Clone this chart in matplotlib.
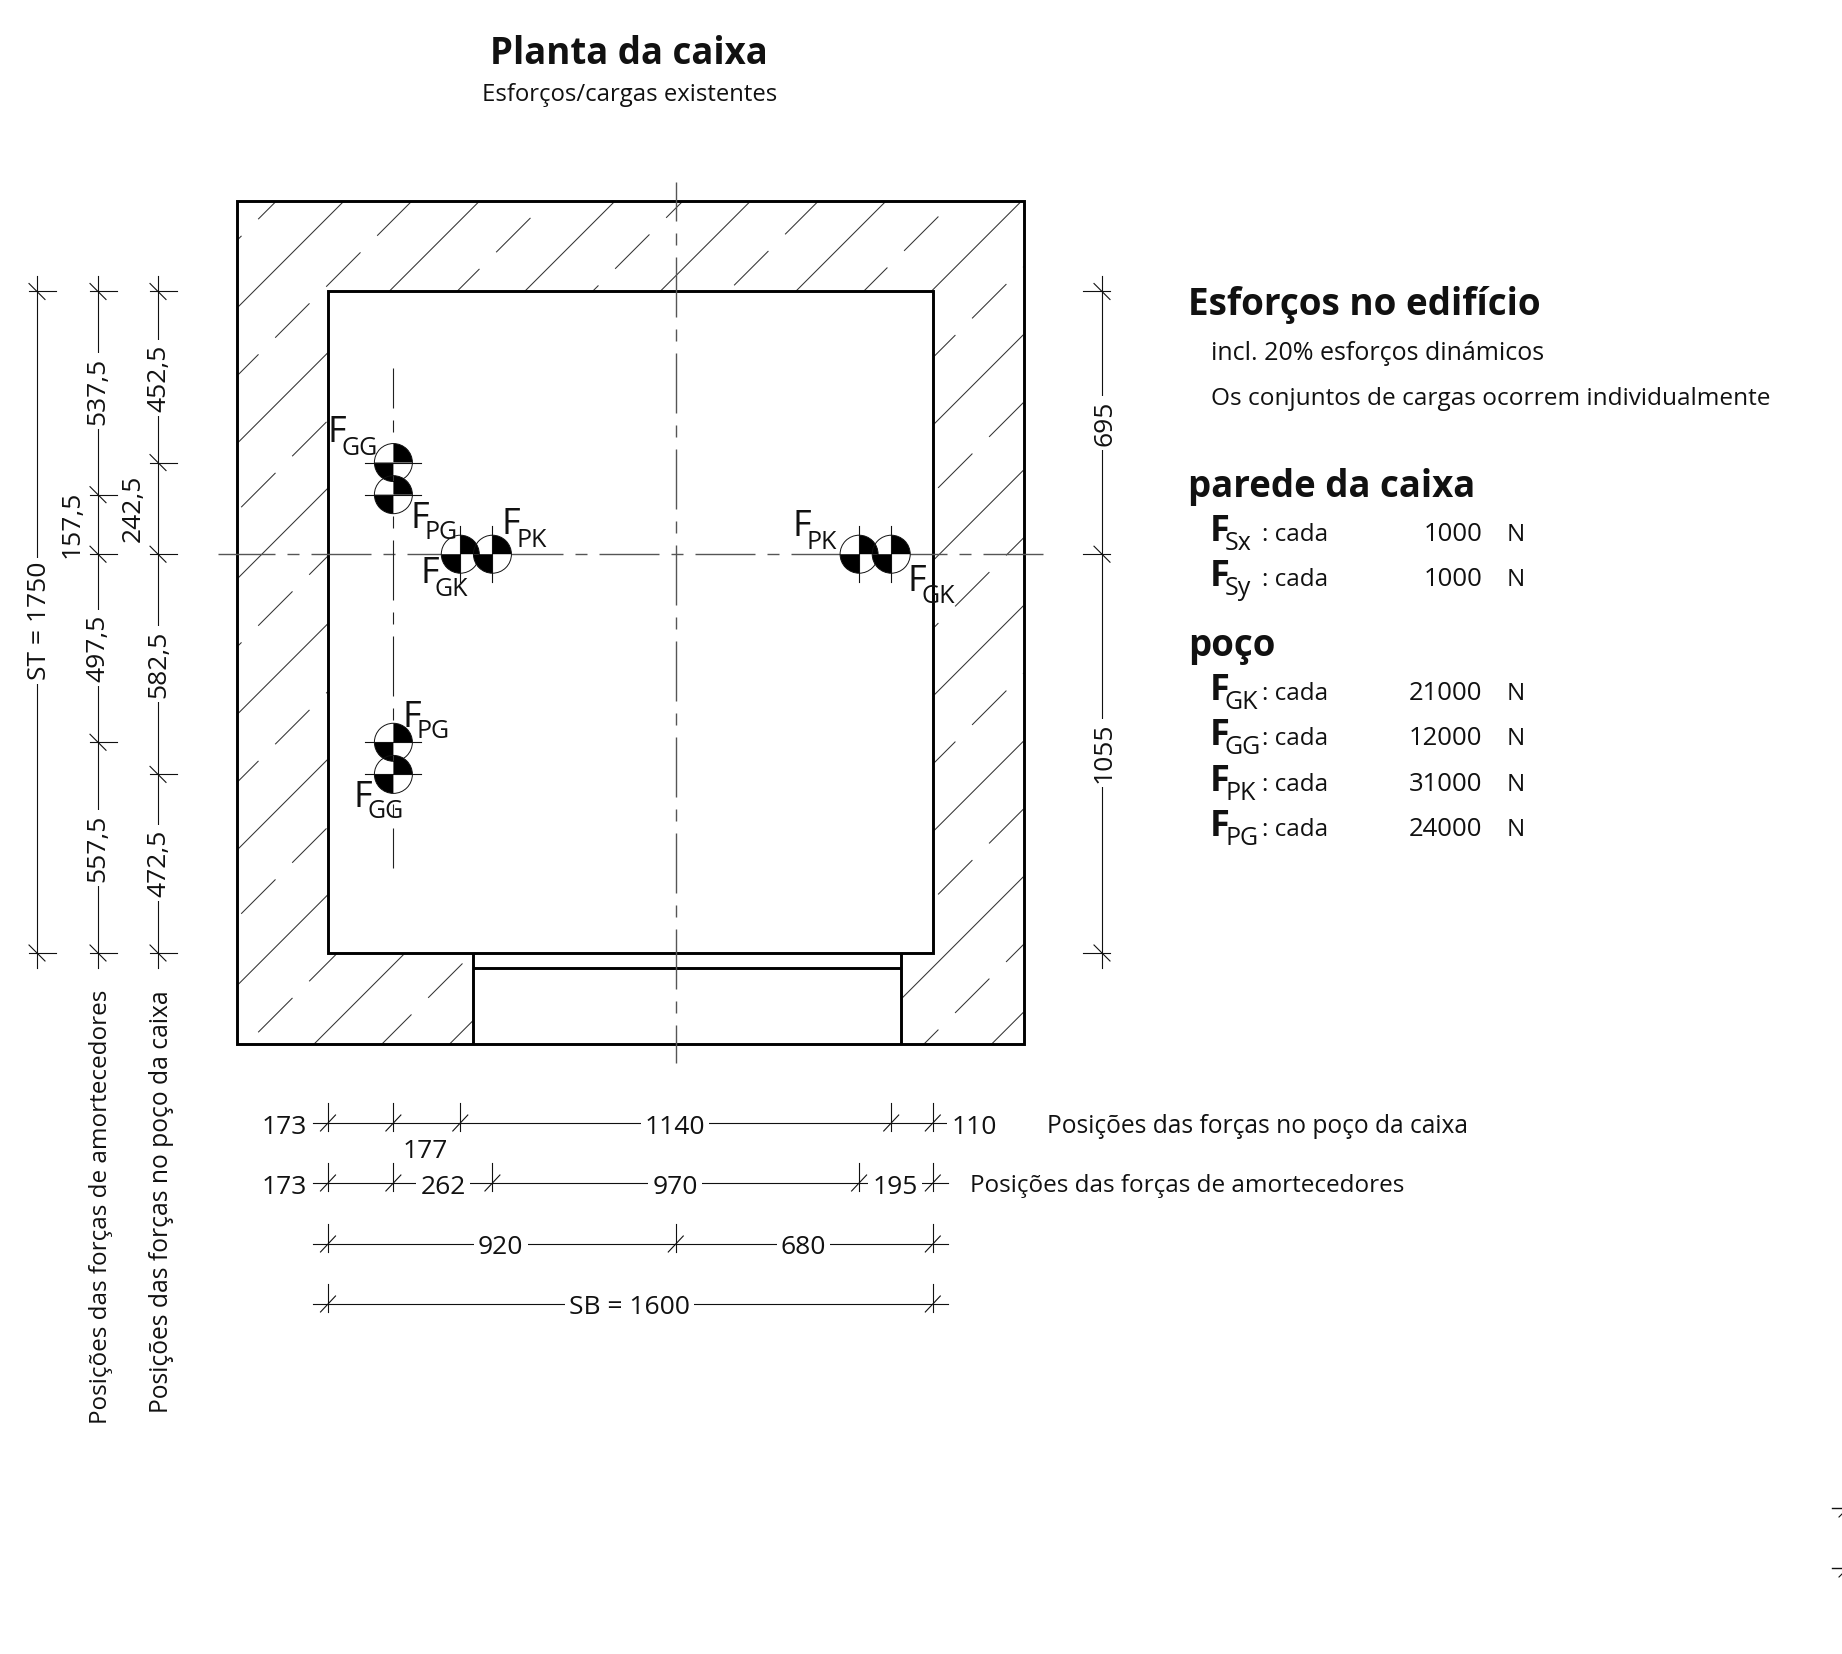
import numpy as np
import matplotlib
matplotlib.use("Agg")
import matplotlib.pyplot as plt
from matplotlib.patches import Rectangle, Circle, Wedge
from matplotlib.collections import LineCollection

plt.rcParams["font.family"] = ["Open Sans", "DejaVu Sans"]
plt.rcParams["lines.scale_dashes"] = False

# dimensions in mm
SB = 1600
ST = 1750
WALL = 240
DOOR = [384, 1516]
DOOR_SILL = 40

row_poco = [173, 177, 1140, 110]
row_amort = [173, 262, 970, 195]
row_center = [920, 680]
row_total = [1600]

col_total = [1750]
col_amort = [537.5, 157.5, 497.5, 557.5]
col_poco = [452.5, 242.5, 582.5, 472.5]
col_center = [695, 1055]

legend_wall = [("Sx", 1000), ("Sy", 1000)]
legend_pit = [("GK", 21000), ("GG", 12000), ("PK", 31000), ("PG", 24000)]

S = 0.378       # px per mm
X0, Y0 = 328, 953   # pixel of shaft corner
W, H = 1842, 1654
INK = "#111111"


def mx(px):
    return (px - X0) / S


def my(py):
    return (Y0 - py) / S


fig = plt.figure(figsize=(W / 100, H / 100), dpi=100)
ax = fig.add_axes([0, 0, 1, 1])
ax.set_xlim(mx(0), mx(W))
ax.set_ylim(my(H), my(0))
ax.axis("off")


def text(px, py, s, size=17.5, **kw):
    kw.setdefault("color", INK)
    kw.setdefault("va", "baseline")
    return ax.text(mx(px), my(py), s, fontsize=size, **kw)


# hatching of the wall
segs = []
for k in range(0, 13):
    c = 1947 - 358.5 * k
    segs.append([(-WALL, -WALL + c), (SB + WALL, SB + WALL + c)])
P, DASH = 134.9, 90.8
for k in range(0, 13):
    c = 2126 - 358.5 * k
    top = (41 + P / 3 * k) % P
    for n in range(-4, 18):
        xt = top + n * P
        segs.append([(xt - DASH, xt - DASH + c), (xt, xt + c)])
hatch = LineCollection(segs, colors="#333333", linewidths=0.75, zorder=1)
ax.add_collection(hatch)
hatch.set_clip_path(Rectangle((-WALL, -WALL), SB + 2 * WALL, ST + 2 * WALL, transform=ax.transData))

ax.add_patch(Rectangle((0, 0), SB, ST, fc="white", ec="none", zorder=2))
ax.add_patch(Rectangle((DOOR[0], -WALL), DOOR[1] - DOOR[0], WALL, fc="white", ec="none", zorder=2))

# walls
wall_lw = 2.1
ax.add_patch(Rectangle((-WALL, -WALL), SB + 2 * WALL, ST + 2 * WALL, fc="none", ec="black", lw=wall_lw, zorder=3))
ax.add_patch(Rectangle((0, 0), SB, ST, fc="none", ec="black", lw=wall_lw, zorder=3))
for xd in DOOR:
    ax.plot([xd, xd], [0, -WALL], color="black", lw=wall_lw, solid_capstyle="butt", zorder=3)
ax.plot(DOOR, [-DOOR_SILL, -DOOR_SILL], color="black", lw=wall_lw, solid_capstyle="butt", zorder=3)

# centre lines
yc = ST - col_center[0]
xc = row_center[0]
pat = (0.72 * 60, 0.72 * 12, 0.72 * 12, 0.72 * 12)
ax.plot([mx(218), mx(1043)], [yc, yc], color="#555555", lw=1.0, zorder=4, ls=(0.72 * 3, pat))
ax.plot([xc, xc], [my(182), my(1063)], color="#555555", lw=1.0, zorder=4, ls=(0.72 * 21, pat))
ax.plot([row_poco[0], row_poco[0]], [my(368), my(868)], color="#222222", lw=0.8, zorder=4, ls=(0.72 * 20, pat))


def tick(x, y, vertical_line, flip=1):
    # ext line + slash; vertical_line True -> dimension runs horizontally
    if vertical_line:
        ax.plot([x, x], [y - 8 / S, y + 20 / S], color=INK, lw=0.8, zorder=5)
        ax.plot([x - 7.5 / S, x + 7.5 / S], [y - 8 / S, y + 8 / S], color=INK, lw=0.8, zorder=5)
    else:
        ax.plot([x - flip * 8 / S, x + flip * 19 / S], [y, y], color=INK, lw=0.8, zorder=5)
        ax.plot([x - 8 / S, x + 8 / S], [y + 8 / S, y - 8 / S], color=INK, lw=0.8, zorder=5)


def hdim(py, parts):
    y = my(py)
    xs = np.concatenate([[0], np.cumsum(parts)])
    ax.plot([xs[0] - 15 / S, xs[-1] + 15 / S], [y, y], color=INK, lw=0.8, zorder=5)
    for x in xs:
        tick(x, y, True)


def vdim(px, parts, flip=1):
    x = mx(px)
    ys = ST - np.concatenate([[0], np.cumsum(parts)])
    ax.plot([x, x], [ys[0] + 15 / S, ys[-1] - 15 / S], color=INK, lw=0.8, zorder=5)
    for y in ys:
        tick(x, y, False, flip)


hdim(1123, row_poco)
hdim(1183, row_amort)
hdim(1244, row_center)
hdim(1304, row_total)
vdim(37, col_total)
vdim(98, col_amort)
vdim(158, col_poco)
vdim(1102, col_center, flip=-1)


white = dict(fc="white", ec="none", pad=3)
DIM = 19


def hlabel(px, py, s, box=True):
    text(px, py + 10.5, s, size=DIM, ha="center", zorder=6, bbox=white if box else None)


def vlabel(px, py, s, box=True):
    text(px, py, s, size=DIM, ha="center", rotation=90, rotation_mode="anchor", zorder=6, bbox=white if box else None)


for px, py, s in [(284.5, 1123, row_poco[0]), (675, 1123, row_poco[2]), (974, 1123, row_poco[3]),
                  (284.5, 1183, row_amort[0]), (443, 1183, row_amort[1]), (675, 1183, row_amort[2]),
                  (895, 1183, row_amort[3]), (500.6, 1244, row_center[0]), (803.5, 1244, row_center[1])]:
    hlabel(px, py, str(s))
hlabel(425, 1148, str(row_poco[1]), box=False)
hlabel(629.6, 1304, "SB = %d" % SB)


def dec(v):
    return ("%.1f" % v).replace(".", ",")


vlabel(46.5, 621, "ST = %d" % ST)
vlabel(104, 391, dec(col_amort[0]))
vlabel(79, 524, dec(col_amort[1]), box=False)
vlabel(104, 648, dec(col_amort[2]))
vlabel(104, 848, dec(col_amort[3]))
vlabel(165, 378, dec(col_poco[0]))
vlabel(140, 508, dec(col_poco[1]), box=False)
vlabel(165, 664, dec(col_poco[2]))
vlabel(165, 863, dec(col_poco[3]))
vlabel(1111, 423, str(col_center[0]))
vlabel(1111, 753, str(col_center[1]))

# force targets
R = 19 / S
TL = 28 / S
amort = np.cumsum(col_amort)
poco = np.cumsum(col_poco)
targets = [
    (row_poco[0], ST - poco[0], "h"),
    (row_poco[0], ST - amort[0], "h"),
    (row_poco[0], ST - amort[2], "h"),
    (row_poco[0], ST - poco[2], "h"),
    (row_poco[0] + row_poco[1], yc, "v"),
    (row_amort[0] + row_amort[1], yc, "v"),
    (sum(row_amort[:3]), yc, "v"),
    (sum(row_poco[:3]), yc, "v"),
]
for x, y, d in targets:
    ax.add_patch(Circle((x, y), R, fc="white", ec="none", zorder=6))
    ax.add_patch(Wedge((x, y), R, 0, 90, fc="black", ec="none", zorder=7))
    ax.add_patch(Wedge((x, y), R, 180, 270, fc="black", ec="none", zorder=7))
    ax.add_patch(Circle((x, y), R, fc="none", ec=INK, lw=0.7, zorder=7))
    if d == "h":
        ax.plot([x - TL, x + TL], [y, y], color=INK, lw=0.8, zorder=8)
    else:
        ax.plot([x, x], [y - TL, y + TL], color=INK, lw=0.8, zorder=8)

force_labels = [
    (330, 442, 341, 455, "GG"), (413, 528, 424, 539, "PG"), (504, 534, 516, 546.7, "PK"),
    (423, 583, 434, 596, "GK"), (795, 535.7, 806, 548.6, "PK"), (910, 591, 921, 602.6, "GK"),
    (405, 727, 416, 737.7, "PG"), (356, 807, 367, 817.6, "GG"),
]
for fx, fy, sx, sy, sub in force_labels:
    text(fx - 3, fy, "F", size=26, zorder=9)
    text(sx, sy, sub, size=18, zorder=9)

# titles
HEAD = 26.4
text(629, 64.5, "Planta da caixa", size=HEAD, weight="bold", ha="center")
text(629.6, 101.5, "Esforços/cargas existentes", size=17.2, ha="center")

text(1046.7, 1132.6, "Posições das forças no poço da caixa", size=17.65)
text(970, 1192.5, "Posições das forças de amortecedores")
text(107, 990, "Posições das forças de amortecedores", rotation=90, rotation_mode="anchor", ha="right")
text(168, 990, "Posições das forças no poço da caixa", size=17.75, rotation=90, rotation_mode="anchor", ha="right")

# legend on the right
text(1188, 315, "Esforços no edifício", size=HEAD + 0.2, weight="bold")
text(1211, 360, "incl. 20% esforços dinámicos", size=18)
text(1211, 405, "Os conjuntos de cargas ocorrem individualmente", size=17.55)
text(1188, 496.5, "parede da caixa", size=HEAD, weight="bold")
text(1188, 656, "poço", size=HEAD, weight="bold")

legend_y = [541, 585.7, 700, 745, 791, 836]
for (sub, val), y in zip(legend_wall + legend_pit, legend_y):
    text(1210, y, "F", size=26, weight="bold")
    text(1225, y + 9, sub, size=18)
    text(1261.5, y, ": cada")
    text(1482.5, y, str(val), size=18.5, ha="right")
    text(1506.5, y, "N")

# start of the next drawing, cut by the right edge
for py in [1508, 1568]:
    ax.plot([mx(1832), mx(1843)], [my(py), my(py)], color=INK, lw=1.0, clip_on=True)
    ax.plot([mx(1839), mx(1843)], [my(py + 9), my(py + 5)], color=INK, lw=0.8, clip_on=True)

fig.savefig("out.png", dpi=100)
